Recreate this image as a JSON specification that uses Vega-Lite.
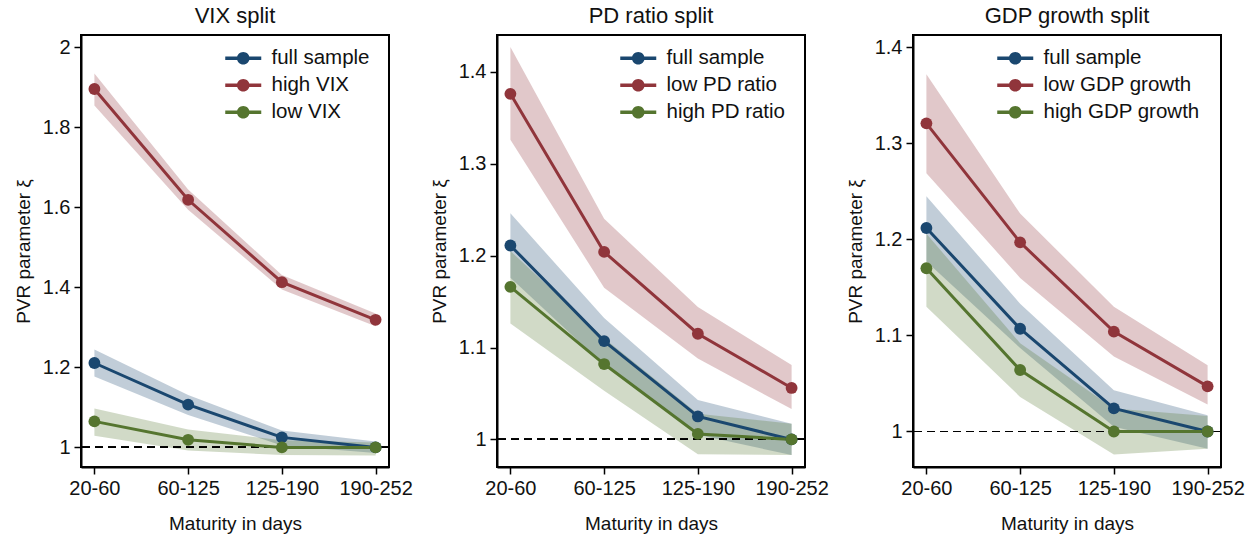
{
  "$schema": "https://vega.github.io/schema/vega-lite/v6.json",
  "padding": {"left": 13, "top": 4, "right": 5, "bottom": 5},
  "background": "white",
  "spacing": 108,
  "bounds": "flush",
  "datasets": {
    "d": [
      {"panel": "VIX", "group": "full sample", "maturity": "20-60", "value": 1.211, "lo": 1.177, "hi": 1.245},
      {"panel": "VIX", "group": "full sample", "maturity": "60-125", "value": 1.107, "lo": 1.081, "hi": 1.131},
      {"panel": "VIX", "group": "full sample", "maturity": "125-190", "value": 1.025, "lo": 1.005, "hi": 1.042},
      {"panel": "VIX", "group": "full sample", "maturity": "190-252", "value": 1.0, "lo": 0.986, "hi": 1.015},
      {"panel": "VIX", "group": "high VIX", "maturity": "20-60", "value": 1.896, "lo": 1.855, "hi": 1.935},
      {"panel": "VIX", "group": "high VIX", "maturity": "60-125", "value": 1.619, "lo": 1.594, "hi": 1.645},
      {"panel": "VIX", "group": "high VIX", "maturity": "125-190", "value": 1.413, "lo": 1.395, "hi": 1.431},
      {"panel": "VIX", "group": "high VIX", "maturity": "190-252", "value": 1.319, "lo": 1.303, "hi": 1.335},
      {"panel": "VIX", "group": "low VIX", "maturity": "20-60", "value": 1.065, "lo": 1.029, "hi": 1.097},
      {"panel": "VIX", "group": "low VIX", "maturity": "60-125", "value": 1.019, "lo": 0.992, "hi": 1.045},
      {"panel": "VIX", "group": "low VIX", "maturity": "125-190", "value": 1.0, "lo": 0.981, "hi": 1.018},
      {"panel": "VIX", "group": "low VIX", "maturity": "190-252", "value": 1.0, "lo": 0.98, "hi": 1.012},

      {"panel": "PD", "group": "full sample", "maturity": "20-60", "value": 1.211, "lo": 1.176, "hi": 1.246},
      {"panel": "PD", "group": "full sample", "maturity": "60-125", "value": 1.107, "lo": 1.081, "hi": 1.132},
      {"panel": "PD", "group": "full sample", "maturity": "125-190", "value": 1.025, "lo": 1.005, "hi": 1.043},
      {"panel": "PD", "group": "full sample", "maturity": "190-252", "value": 1.0, "lo": 0.983, "hi": 1.017},
      {"panel": "PD", "group": "low PD ratio", "maturity": "20-60", "value": 1.376, "lo": 1.326, "hi": 1.427},
      {"panel": "PD", "group": "low PD ratio", "maturity": "60-125", "value": 1.204, "lo": 1.165, "hi": 1.24},
      {"panel": "PD", "group": "low PD ratio", "maturity": "125-190", "value": 1.115, "lo": 1.088, "hi": 1.144},
      {"panel": "PD", "group": "low PD ratio", "maturity": "190-252", "value": 1.056, "lo": 1.033, "hi": 1.081},
      {"panel": "PD", "group": "high PD ratio", "maturity": "20-60", "value": 1.166, "lo": 1.126, "hi": 1.205},
      {"panel": "PD", "group": "high PD ratio", "maturity": "60-125", "value": 1.082, "lo": 1.053, "hi": 1.11},
      {"panel": "PD", "group": "high PD ratio", "maturity": "125-190", "value": 1.006, "lo": 0.984, "hi": 1.028},
      {"panel": "PD", "group": "high PD ratio", "maturity": "190-252", "value": 1.0, "lo": 0.983, "hi": 1.017},

      {"panel": "GDP", "group": "full sample", "maturity": "20-60", "value": 1.212, "lo": 1.177, "hi": 1.245},
      {"panel": "GDP", "group": "full sample", "maturity": "60-125", "value": 1.107, "lo": 1.087, "hi": 1.133},
      {"panel": "GDP", "group": "full sample", "maturity": "125-190", "value": 1.024, "lo": 1.005, "hi": 1.043},
      {"panel": "GDP", "group": "full sample", "maturity": "190-252", "value": 1.0, "lo": 0.982, "hi": 1.017},
      {"panel": "GDP", "group": "low GDP growth", "maturity": "20-60", "value": 1.321, "lo": 1.269, "hi": 1.372},
      {"panel": "GDP", "group": "low GDP growth", "maturity": "60-125", "value": 1.197, "lo": 1.16, "hi": 1.227},
      {"panel": "GDP", "group": "low GDP growth", "maturity": "125-190", "value": 1.104, "lo": 1.078, "hi": 1.13},
      {"panel": "GDP", "group": "low GDP growth", "maturity": "190-252", "value": 1.047, "lo": 1.028, "hi": 1.069},
      {"panel": "GDP", "group": "high GDP growth", "maturity": "20-60", "value": 1.17, "lo": 1.13, "hi": 1.206},
      {"panel": "GDP", "group": "high GDP growth", "maturity": "60-125", "value": 1.064, "lo": 1.036, "hi": 1.092},
      {"panel": "GDP", "group": "high GDP growth", "maturity": "125-190", "value": 1.0, "lo": 0.976, "hi": 1.024},
      {"panel": "GDP", "group": "high GDP growth", "maturity": "190-252", "value": 1.0, "lo": 0.982, "hi": 1.016}
    ]
  },
  "config": {
    "font": "Liberation Sans",
    "view": {"stroke": "black", "strokeWidth": 2},
    "title": {"fontSize": 22, "fontWeight": "normal", "color": "#111", "offset": 7, "anchor": "middle"},
    "axis": {
      "grid": false,
      "domainColor": "black",
      "domainWidth": 2,
      "tickColor": "black",
      "tickWidth": 1.5,
      "tickSize": 7,
      "labelFontSize": 20,
      "labelColor": "#111",
      "titleFontSize": 19,
      "titleFontWeight": "normal",
      "titleColor": "#111"
    },
    "legend": {
      "orient": "none",
      "padding": 0,
      "labelFontSize": 20.5,
      "labelColor": "#111",
      "symbolType": "M-2,-0.2 L2,-0.2 L2,0.2 L-2,0.2 Z M0.7,0 A0.7,0.7 0 1 1 -0.7,0 A0.7,0.7 0 1 1 0.7,0 Z",
      "symbolSize": 324,
      "symbolStrokeWidth": 0,
      "symbolOpacity": 1,
      "labelOffset": 18,
      "rowPadding": 6
    }
  },
  "resolve": {"scale": {"color": "independent", "y": "independent"}, "legend": {"color": "independent"}},
  "hconcat": [
    {
      "title": "VIX split",
      "width": 308,
      "height": 432,
      "data": {"name": "d"},
      "transform": [{"filter": "datum.panel === 'VIX'"}],
      "layer": [
        {"mark": {"type": "area", "fillOpacity": 0.27}, "encoding": {
          "x": {"field": "maturity", "type": "ordinal", "sort": ["20-60", "60-125", "125-190", "190-252"], "scale": {"type": "point", "padding": 0.143}, "axis": {"labelAngle": 0, "title": "Maturity in days", "labelPadding": 4, "titlePadding": 16}},
          "y": {"field": "lo", "type": "quantitative", "scale": {"domain": [0.951, 2.031], "nice": false, "zero": false}, "axis": {"values": [1, 1.2, 1.4, 1.6, 1.8, 2], "format": "~g", "title": "PVR parameter ξ", "labelPadding": 4, "titlePadding": 9}},
          "y2": {"field": "hi"},
          "color": {"field": "group", "type": "nominal", "scale": {"domain": ["full sample", "high VIX", "low VIX"], "range": ["#1a476f", "#90353b", "#55752f"]}, "legend": {"title": null, "orient": "none", "legendX": 152, "legendY": 13}}}},
        {"mark": {"type": "rule", "strokeDash": [8, 5], "color": "black", "strokeWidth": 1.2}, "encoding": {"y": {"datum": 1, "type": "quantitative", "title": "PVR parameter ξ"}}},
        {"mark": {"type": "line", "strokeWidth": 3}, "encoding": {
          "x": {"field": "maturity", "type": "ordinal", "sort": ["20-60", "60-125", "125-190", "190-252"], "title": "Maturity in days"},
          "y": {"field": "value", "type": "quantitative", "title": "PVR parameter ξ"},
          "color": {"field": "group", "type": "nominal"}}},
        {"mark": {"type": "point", "filled": true, "size": 140, "opacity": 1}, "encoding": {
          "x": {"field": "maturity", "type": "ordinal", "sort": ["20-60", "60-125", "125-190", "190-252"], "title": "Maturity in days"},
          "y": {"field": "value", "type": "quantitative", "title": "PVR parameter ξ"},
          "color": {"field": "group", "type": "nominal"}}}
      ]
    },
    {
      "title": "PD ratio split",
      "width": 308,
      "height": 432,
      "data": {"name": "d"},
      "transform": [{"filter": "datum.panel === 'PD'"}],
      "layer": [
        {"mark": {"type": "area", "fillOpacity": 0.27}, "encoding": {
          "x": {"field": "maturity", "type": "ordinal", "sort": ["20-60", "60-125", "125-190", "190-252"], "scale": {"type": "point", "padding": 0.143}, "axis": {"labelAngle": 0, "title": "Maturity in days", "labelPadding": 4, "titlePadding": 16}},
          "y": {"field": "lo", "type": "quantitative", "scale": {"domain": [0.97, 1.44], "nice": false, "zero": false}, "axis": {"values": [1, 1.1, 1.2, 1.3, 1.4], "format": "~g", "title": "PVR parameter ξ", "labelPadding": 4, "titlePadding": 9}},
          "y2": {"field": "hi"},
          "color": {"field": "group", "type": "nominal", "scale": {"domain": ["full sample", "low PD ratio", "high PD ratio"], "range": ["#1a476f", "#90353b", "#55752f"]}, "legend": {"title": null, "orient": "none", "legendX": 131, "legendY": 13}}}},
        {"mark": {"type": "rule", "strokeDash": [8, 5], "color": "black", "strokeWidth": 1.2}, "encoding": {"y": {"datum": 1, "type": "quantitative", "title": "PVR parameter ξ"}}},
        {"mark": {"type": "line", "strokeWidth": 3}, "encoding": {
          "x": {"field": "maturity", "type": "ordinal", "sort": ["20-60", "60-125", "125-190", "190-252"], "title": "Maturity in days"},
          "y": {"field": "value", "type": "quantitative", "title": "PVR parameter ξ"},
          "color": {"field": "group", "type": "nominal"}}},
        {"mark": {"type": "point", "filled": true, "size": 140, "opacity": 1}, "encoding": {
          "x": {"field": "maturity", "type": "ordinal", "sort": ["20-60", "60-125", "125-190", "190-252"], "title": "Maturity in days"},
          "y": {"field": "value", "type": "quantitative", "title": "PVR parameter ξ"},
          "color": {"field": "group", "type": "nominal"}}}
      ]
    },
    {
      "title": "GDP growth split",
      "width": 308,
      "height": 432,
      "data": {"name": "d"},
      "transform": [{"filter": "datum.panel === 'GDP'"}],
      "layer": [
        {"mark": {"type": "area", "fillOpacity": 0.27}, "encoding": {
          "x": {"field": "maturity", "type": "ordinal", "sort": ["20-60", "60-125", "125-190", "190-252"], "scale": {"type": "point", "padding": 0.143}, "axis": {"labelAngle": 0, "title": "Maturity in days", "labelPadding": 4, "titlePadding": 16}},
          "y": {"field": "lo", "type": "quantitative", "scale": {"domain": [0.963, 1.413], "nice": false, "zero": false}, "axis": {"values": [1, 1.1, 1.2, 1.3, 1.4], "format": "~g", "title": "PVR parameter ξ", "labelPadding": 4, "titlePadding": 9}},
          "y2": {"field": "hi"},
          "color": {"field": "group", "type": "nominal", "scale": {"domain": ["full sample", "low GDP growth", "high GDP growth"], "range": ["#1a476f", "#90353b", "#55752f"]}, "legend": {"title": null, "orient": "none", "legendX": 92, "legendY": 13}}}},
        {"mark": {"type": "rule", "strokeDash": [8, 5], "color": "black", "strokeWidth": 1.2}, "encoding": {"y": {"datum": 1, "type": "quantitative", "title": "PVR parameter ξ"}}},
        {"mark": {"type": "line", "strokeWidth": 3}, "encoding": {
          "x": {"field": "maturity", "type": "ordinal", "sort": ["20-60", "60-125", "125-190", "190-252"], "title": "Maturity in days"},
          "y": {"field": "value", "type": "quantitative", "title": "PVR parameter ξ"},
          "color": {"field": "group", "type": "nominal"}}},
        {"mark": {"type": "point", "filled": true, "size": 140, "opacity": 1}, "encoding": {
          "x": {"field": "maturity", "type": "ordinal", "sort": ["20-60", "60-125", "125-190", "190-252"], "title": "Maturity in days"},
          "y": {"field": "value", "type": "quantitative", "title": "PVR parameter ξ"},
          "color": {"field": "group", "type": "nominal"}}}
      ]
    }
  ]
}
